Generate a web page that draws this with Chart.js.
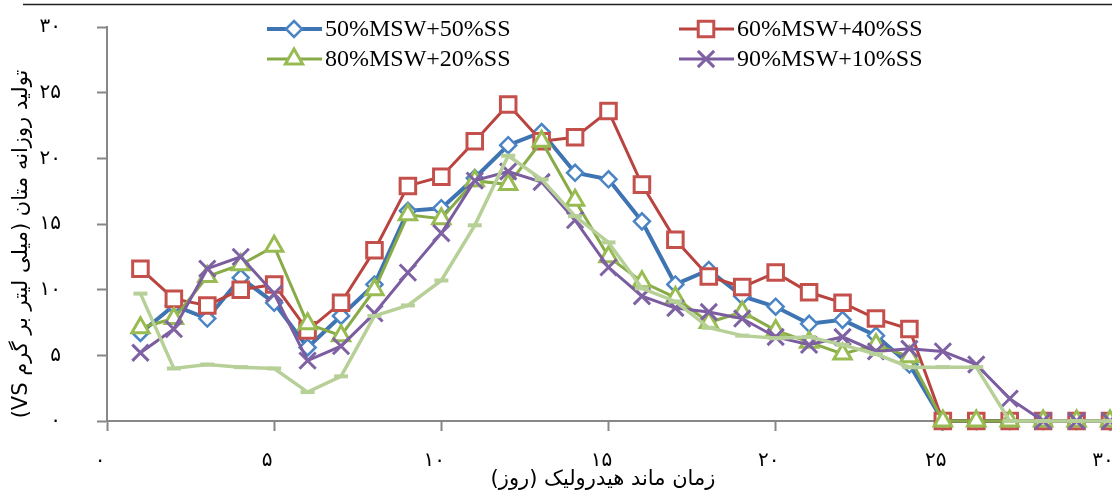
<!DOCTYPE html>
<html>
<head>
<meta charset="utf-8">
<script src="https://cdn.jsdelivr.net/npm/chart.js@4.4.1/dist/chart.umd.min.js"></script>
<style>
  html, body { margin: 0; padding: 0; background: #ffffff; }
  canvas { display: block; }
</style>
</head>
<body>
<canvas id="c" width="1112" height="495"></canvas>
<script>
// Hydraulic retention time (days)
const days = [1, 2, 3, 4, 5, 6, 7, 8, 9, 10, 11, 12, 13, 14, 15, 16, 17, 18, 19, 20, 21, 22, 23, 24, 25, 26, 27, 28, 29, 30];

// Daily methane production (mL / g VS)
const mix50 = [6.7, 8.8, 7.8, 10.9, 9.0, 5.6, 8.0, 10.4, 16.0, 16.2, 18.5, 21.0, 22.0, 18.9, 18.4, 15.2, 10.4, 11.5, 9.5, 8.7, 7.4, 7.7, 6.5, 4.3, 0, 0, 0, 0, 0, 0];
const mix60 = [11.6, 9.3, 8.8, 10.0, 10.4, 6.9, 9.0, 13.0, 17.9, 18.6, 21.3, 24.1, 21.3, 21.6, 23.6, 18.0, 13.8, 11.0, 10.2, 11.3, 9.8, 9.0, 7.8, 7.0, 0, 0, 0, 0, 0, 0];
const mix80 = [7.1, 7.8, 11.0, 11.9, 13.3, 7.4, 6.5, 10.0, 15.7, 15.4, 18.3, 18.0, 21.3, 16.8, 12.5, 10.6, 9.4, 7.5, 8.3, 6.9, 6.0, 5.1, 5.8, 4.9, 0, 0, 0, 0, 0, 0];
const mix90 = [5.2, 7.0, 11.6, 12.5, 9.7, 4.6, 5.7, 8.2, 11.3, 14.3, 18.3, 19.0, 18.2, 15.3, 11.7, 9.5, 8.6, 8.3, 7.8, 6.4, 5.8, 6.4, 5.3, 5.5, 5.3, 4.3, 1.7, 0, 0, 0];
const mix100 = [9.7, 4.0, 4.3, 4.1, 4.0, 2.2, 3.4, 8.0, 8.8, 10.7, 14.9, 20.2, 18.4, 15.6, 13.6, 10.1, 9.1, 7.1, 6.5, 6.3, 6.4, 5.8, 5.1, 4.1, 4.1, 4.1, 0, 0, 0, 0];

const seriesNames = ['50%MSW+50%SS', '60%MSW+40%SS', '80%MSW+20%SS', '90%MSW+10%SS'];

// Axis tick labels (Persian digits)
const xTickLabels = ['۰', '۵', '۱۰', '۱۵', '۲۰', '۲۵', '۳۰'];
const yTickLabels = ['۰', '۵', '۱۰', '۱۵', '۲۰', '۲۵', '۳۰'];

const xTitle = 'زمان ماند هیدرولیک (روز)';
const yTitle = 'تولید روزانه متان (میلی لیتر بر گرم VS)';

const toPoints = arr => days.map((d, i) => ({ x: d, y: arr[i] }));

const PERSIAN_FONT = '"DejaVu Sans", sans-serif';

const datasets = [
  {
    label: seriesNames[0], data: toPoints(mix50), order: 5, clip: false,
    borderColor: '#3e74b2', borderWidth: 4,
    pointStyle: 'rectRot', pointRadius: 8, pointBorderWidth: 2.5,
    pointBorderColor: '#4a84c4', pointBackgroundColor: '#ffffff'
  },
  {
    label: seriesNames[1], data: toPoints(mix60), order: 4, clip: false,
    borderColor: '#b8433f', borderWidth: 3,
    pointStyle: 'rect', pointRadius: 11, pointBorderWidth: 3,
    pointBorderColor: '#c4504c', pointBackgroundColor: '#ffffff'
  },
  {
    label: seriesNames[2], data: toPoints(mix80), order: 3, clip: false,
    borderColor: '#88ab48', borderWidth: 3,
    pointStyle: 'triangle', pointRadius: 10, pointBorderWidth: 3,
    pointBorderColor: '#98bc52', pointBackgroundColor: '#ffffff'
  },
  {
    label: seriesNames[3], data: toPoints(mix90), order: 2, clip: false,
    borderColor: '#7a5c9f', borderWidth: 3,
    pointStyle: 'crossRot', pointRadius: 11.5, pointBorderWidth: 3,
    pointBorderColor: '#7f62a3', pointBackgroundColor: '#ffffff'
  },
  {
    label: '', data: toPoints(mix100), order: 1, clip: false,
    borderColor: '#b7d098', borderWidth: 3.5,
    pointStyle: 'line', pointRadius: 7, pointBorderWidth: 4,
    pointBorderColor: '#b7d098', pointBackgroundColor: '#b7d098'
  }
];

// Legend marker shapes
function drawMarker(ctx, ds, x, y) {
  const r = ds.pointRadius;
  ctx.save();
  ctx.lineWidth = ds.pointBorderWidth;
  ctx.strokeStyle = ds.pointBorderColor;
  ctx.fillStyle = ds.pointBackgroundColor;
  ctx.beginPath();
  if (ds.pointStyle === 'rectRot') {
    ctx.moveTo(x, y - r); ctx.lineTo(x + r, y); ctx.lineTo(x, y + r); ctx.lineTo(x - r, y); ctx.closePath();
    ctx.fill(); ctx.stroke();
  } else if (ds.pointStyle === 'rect') {
    const s = Math.SQRT1_2 * r;
    ctx.rect(x - s, y - s, 2 * s, 2 * s);
    ctx.fill(); ctx.stroke();
  } else if (ds.pointStyle === 'triangle') {
    const a = 2 * Math.PI / 3;
    ctx.moveTo(x, y - r);
    ctx.lineTo(x + Math.sin(a) * r, y - Math.cos(a) * r);
    ctx.lineTo(x + Math.sin(2 * a) * r, y - Math.cos(2 * a) * r);
    ctx.closePath();
    ctx.fill(); ctx.stroke();
  } else if (ds.pointStyle === 'crossRot') {
    const o = Math.SQRT1_2 * r;
    ctx.moveTo(x - o, y - o); ctx.lineTo(x + o, y + o);
    ctx.moveTo(x + o, y - o); ctx.lineTo(x - o, y + o);
    ctx.stroke();
  }
  ctx.restore();
}

const decorations = {
  id: 'decorations',
  afterDraw(chart) {
    const ctx = chart.ctx;
    ctx.save();

    // rule along the top edge
    ctx.strokeStyle = '#1f1f1f';
    ctx.lineWidth = 1.5;
    ctx.beginPath();
    ctx.moveTo(23, 4.5);
    ctx.lineTo(1112, 4.5);
    ctx.stroke();

    // legend: two columns, two rows
    const slots = [
      { x: 267, y: 29 }, { x: 679, y: 29 },
      { x: 267, y: 59 }, { x: 679, y: 59 }
    ];
    ctx.font = '24px "Liberation Serif", "Times New Roman", serif';
    ctx.textBaseline = 'middle';
    ctx.textAlign = 'left';
    for (let i = 0; i < 4; i++) {
      const ds = datasets[i];
      const s = slots[i];
      ctx.strokeStyle = ds.borderColor;
      ctx.lineWidth = ds.borderWidth;
      ctx.beginPath();
      ctx.moveTo(s.x, s.y);
      ctx.lineTo(s.x + 55, s.y);
      ctx.stroke();
      drawMarker(ctx, ds, s.x + 27, s.y);
      ctx.fillStyle = '#000000';
      ctx.fillText(seriesNames[i], s.x + 58, s.y + 1);
    }

    // axis titles
    ctx.fillStyle = '#000000';
    ctx.font = '21px ' + PERSIAN_FONT;
    ctx.direction = 'rtl';
    ctx.textAlign = 'center';
    ctx.textBaseline = 'middle';
    ctx.fillText(xTitle, 603, 480);

    ctx.save();
    ctx.translate(22, 244);
    ctx.rotate(-Math.PI / 2);
    ctx.fillText(yTitle, 0, 0);
    ctx.restore();

    ctx.restore();
  }
};

const axisGray = '#878787';

new Chart(document.getElementById('c'), {
  type: 'line',
  data: { datasets },
  options: {
    responsive: false,
    animation: false,
    devicePixelRatio: 1,
    layout: { autoPadding: false, padding: { top: 27, right: 2, left: 0, bottom: 0 } },
    plugins: { legend: { display: false }, tooltip: { enabled: false } },
    elements: { line: { tension: 0 } },
    scales: {
      x: {
        type: 'linear', min: 0, max: 30,
        afterFit(scale) {
          scale.height = 74;
          scale.paddingLeft = 0; scale.paddingRight = 0;
        },
        border: { color: axisGray, width: 2 },
        grid: { drawOnChartArea: false, drawTicks: true, tickLength: 10, tickWidth: 2, tickColor: axisGray },
        ticks: {
          stepSize: 5, padding: 18, labelOffset: -7, maxRotation: 0, autoSkip: false,
          color: '#000000', font: { family: PERSIAN_FONT, size: 20 },
          callback: (v) => xTickLabels[Math.round(v / 5)]
        }
      },
      y: {
        min: 0, max: 30,
        afterFit(scale) {
          scale.width = 107;
          scale.paddingTop = 0; scale.paddingBottom = 0;
        },
        border: { color: axisGray, width: 2 },
        grid: { drawOnChartArea: false, drawTicks: true, tickLength: 10, tickWidth: 2, tickColor: axisGray },
        ticks: {
          stepSize: 5, padding: 36,
          color: '#000000', font: { family: PERSIAN_FONT, size: 20 },
          callback: (v) => yTickLabels[Math.round(v / 5)]
        }
      }
    }
  },
  plugins: [decorations]
});
</script>
</body>
</html>
